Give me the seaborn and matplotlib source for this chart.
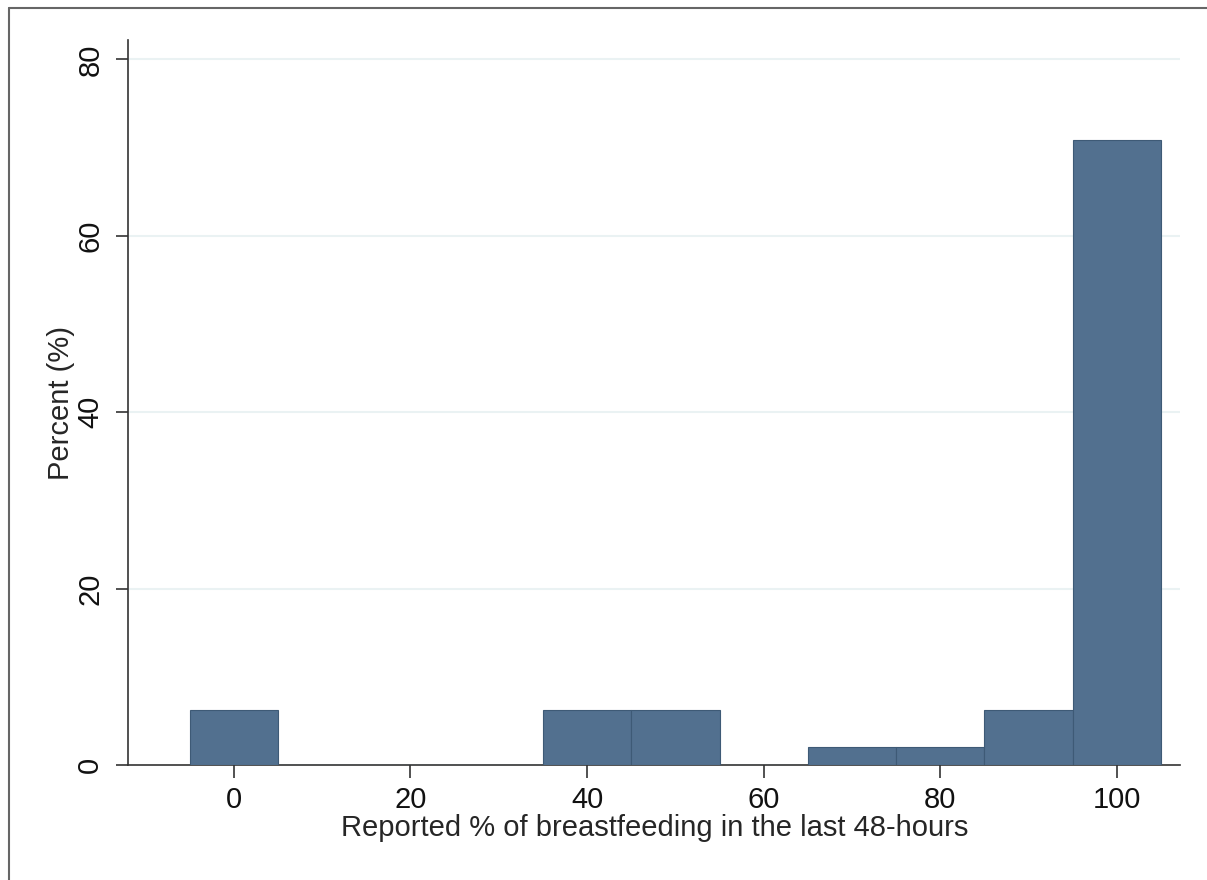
import matplotlib
matplotlib.use("Agg")
import matplotlib.pyplot as plt
import seaborn as sns
from matplotlib.lines import Line2D

# bin centres (bin width 10) and percent of respondents in each bin
bin_centers = [0, 40, 50, 70, 80, 90, 100]
percents = [6.25, 6.25, 6.25, 2.08, 2.08, 6.25, 70.83]
y_ticks = [0, 20, 40, 60, 80]
x_ticks = [0, 20, 40, 60, 80, 100]

sns.set_style("white")
plt.rcParams["font.family"] = ["Liberation Sans", "DejaVu Sans"]

fig = plt.figure(figsize=(12.07, 8.8), dpi=100)
ax = fig.add_axes([0.106, 0.1307, 0.872, 0.8238])

sns.histplot(x=bin_centers, weights=percents, binwidth=10, binrange=(-5, 105),
             color="#52708f", edgecolor="#3e5a76", linewidth=0.8, alpha=1,
             ax=ax, zorder=3)

ax.set_xlim(-12, 107.2)
ax.set_ylim(0, 82.2)
ax.set_xticks(x_ticks)
ax.set_yticks(y_ticks)
ax.set_yticklabels([str(t) for t in y_ticks], rotation=90, va="center")
for t in y_ticks[1:]:
    ax.axhline(t, color="#eaf2f3", lw=1.5, zorder=1)

for s in ["top", "right"]:
    ax.spines[s].set_visible(False)
for s in ["left", "bottom"]:
    ax.spines[s].set_color("#333333")
    ax.spines[s].set_linewidth(1.2)
ax.tick_params(axis="both", direction="out", length=9, width=1.2,
               color="#333333", labelsize=21, labelcolor="#111111", pad=6,
               left=True, bottom=True)
ax.tick_params(axis="y", pad=8)

ax.set_xlabel("Reported % of breastfeeding in the last 48-hours", fontsize=21, labelpad=0)
ax.set_ylabel("Percent (%)", fontsize=21, labelpad=1)

# outer frame (left and top edges visible)
fig.add_artist(Line2D([0.0075, 0.0075], [0, 0.991], transform=fig.transFigure, color="#666666", lw=1.5))
fig.add_artist(Line2D([0.0075, 1], [0.991, 0.991], transform=fig.transFigure, color="#666666", lw=1.5))

fig.savefig("out.png", dpi=100)
